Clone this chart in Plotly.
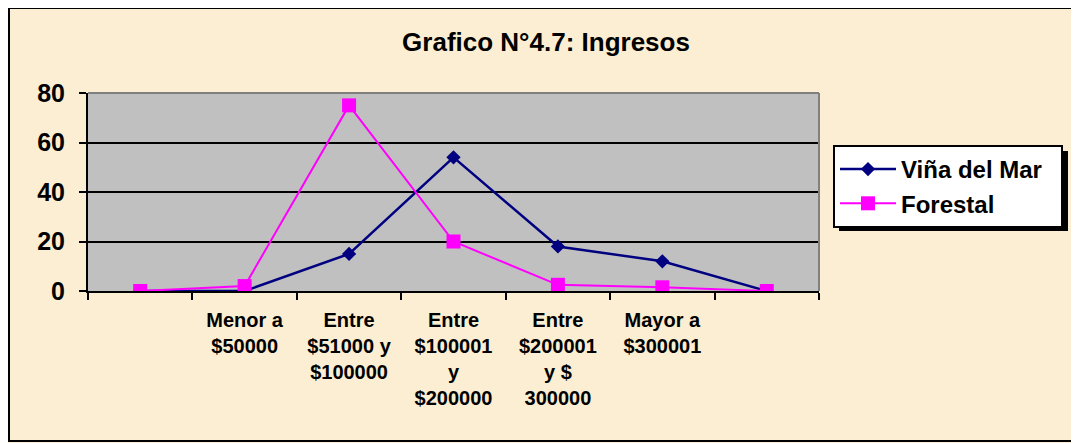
import plotly.graph_objects as go

# ---- data ----
categories = [" ", "Menor a<br>$50000", "Entre<br>$51000 y<br>$100000",
              "Entre<br>$100001<br>y<br>$200000", "Entre<br>$200001<br>y $<br>300000",
              "Mayor a<br>$300001", "  "]
vina_del_mar = [0, 0, 15, 54, 18, 12, 0]
forestal = [0, 2, 75, 20, 2.5, 1.5, 0]
y_ticks = [0, 20, 40, 60, 80]

OFF = 8                      # page body margin
W, H = 1079 - OFF, 443 - OFF
L, R, T, B = 88 - OFF, 819 - OFF, 93 - OFF, 291 - OFF   # plot area in figure pixels

def px(x):
    return (x - OFF - L) / (R - L)

def py(y):
    return (B - (y - OFF)) / (B - T)

FONT = "Arial, 'Liberation Sans', sans-serif"

fig = go.Figure()
fig.add_trace(go.Scatter(
    x=categories, y=vina_del_mar, name="Viña del Mar&nbsp;&nbsp;", mode="lines+markers",
    line=dict(color="#000080", width=2.5),
    marker=dict(symbol="diamond", size=11, color="#000080"),
))
fig.add_trace(go.Scatter(
    x=categories, y=forestal, name="Forestal", mode="lines+markers",
    line=dict(color="#FF00FF", width=2),
    marker=dict(symbol="square", size=14, color="#FF00FF"),
))

shapes = [
    # outer frame
    dict(type="rect", xref="paper", yref="paper", x0=px(9), x1=px(1090), y0=py(441), y1=py(8),
         line=dict(color="black", width=2), fillcolor="rgba(0,0,0,0)", layer="below"),
    # gray top and right border of plot area
    dict(type="line", xref="paper", yref="paper", x0=0, x1=1, y0=1, y1=1,
         line=dict(color="#808080", width=2), layer="above"),
    dict(type="line", xref="paper", yref="paper", x0=1, x1=1, y0=0, y1=1,
         line=dict(color="#808080", width=2), layer="above"),
    # legend shadow
    dict(type="rect", xref="paper", yref="paper", x0=px(839), x1=px(1068), y0=py(231), y1=py(151),
         line=dict(width=0), fillcolor="black", layer="above"),
]

fig.update_layout(
    width=W, height=H,
    margin=dict(l=L, r=W - R, t=T, b=H - B),
    paper_bgcolor="#FBEED2",
    plot_bgcolor="#C0C0C0",
    font=dict(family=FONT, color="black"),
    title=dict(text="<b>Grafico N°4.7: Ingresos</b>", x=(546 - OFF) / W, xanchor="center",
               y=1 - (42 - OFF) / H, yanchor="middle", yref="container",
               font=dict(size=26, family=FONT, color="black")),
    xaxis=dict(type="category", range=[-0.5, 6.5], tickson="boundaries",
               ticks="outside", ticklen=7, tickwidth=2, tickcolor="black",
               showline=True, linecolor="black", linewidth=2, showgrid=False,
               tickfont=dict(size=20, family=FONT, weight="bold"), tickangle=0,
               ticklabelstandoff=10),
    yaxis=dict(range=[0, 80], tickvals=y_ticks, ticks="outside", ticklen=7, tickwidth=2,
               tickcolor="black", showline=True, linecolor="black", linewidth=2,
               showgrid=True, gridcolor="black", gridwidth=2, zeroline=False,
               tickfont=dict(size=25, family=FONT, weight="bold"),
               ticklabelstandoff=9),
    legend=dict(x=px(833), y=py(145), xanchor="left", yanchor="top",
                bgcolor="white", bordercolor="black", borderwidth=2,
                font=dict(size=24, family=FONT, weight="bold", color="black"),
                itemwidth=56),
    shapes=shapes,
    showlegend=True,
)

fig.write_html("out.html")
